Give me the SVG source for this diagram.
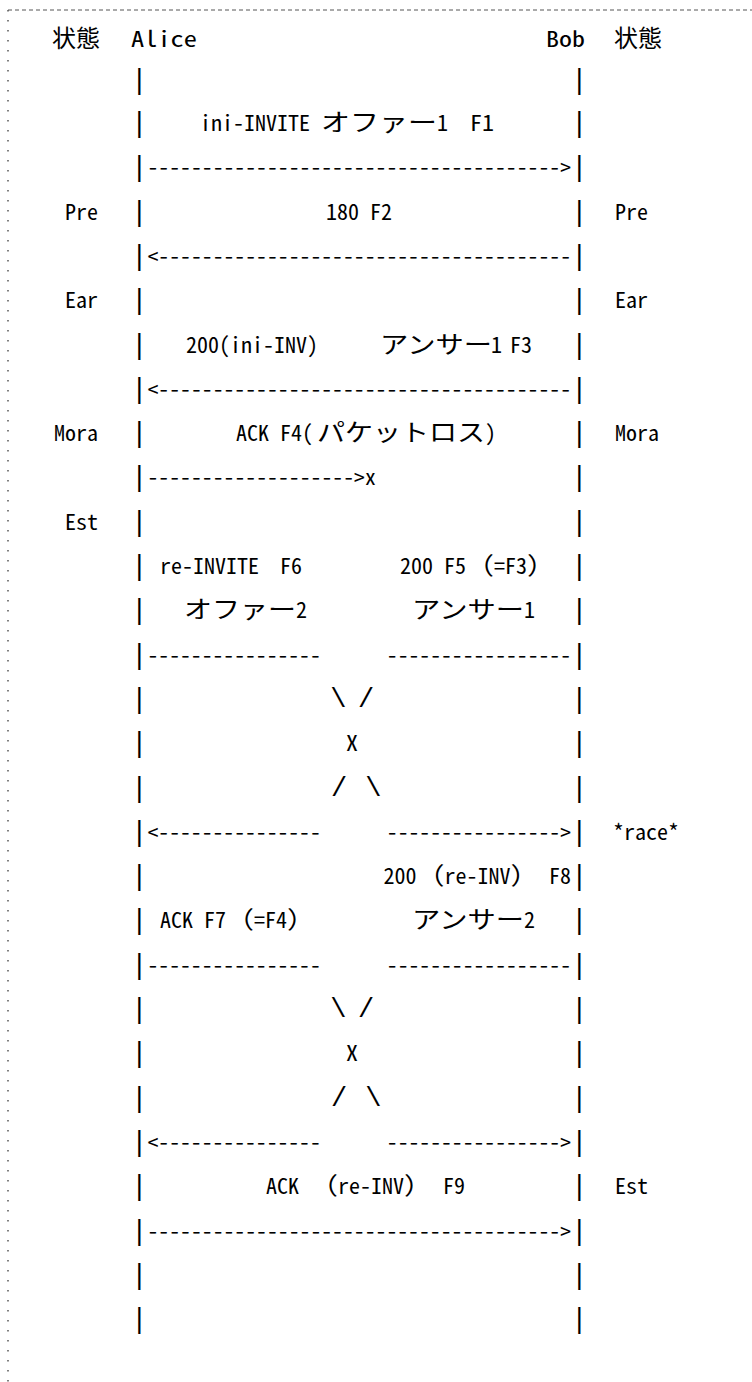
<svg xmlns="http://www.w3.org/2000/svg" width="752" height="1382" viewBox="0 0 752 1382">
<style>
text{font-family:"Noto Sans Mono CJK JP","DejaVu Sans Mono",monospace;font-size:22px;fill:#000}
.b{font-family:"DejaVu Sans Mono","Liberation Mono",monospace;font-size:26px}
.d{font-size:21.5px}
.s{font-family:"Liberation Mono","DejaVu Sans Mono",monospace;font-size:27px;text-anchor:middle}
.j{font-family:"Noto Sans CJK JP","Noto Sans CJK SC",sans-serif;font-size:24px}
.e{text-anchor:end}
</style>
<g id="frame" fill="none" stroke="#555">
<line x1="8" y1="10" x2="752" y2="10" stroke-dasharray="4 3"/>
<line x1="8" y1="10" x2="8" y2="1382" stroke-dasharray="1.5 8.5" stroke-width="1.5"/>
</g>
<g id="header">
<text class="j" x="52" y="47" textLength="48" lengthAdjust="spacingAndGlyphs">状態</text>
<text x="131" y="47" textLength="66" lengthAdjust="spacingAndGlyphs">Alice</text>
<text x="546" y="47" textLength="39" lengthAdjust="spacingAndGlyphs">Bob</text>
<text class="j" x="614" y="47" textLength="48" lengthAdjust="spacingAndGlyphs">状態</text>
</g>
<g id="states">
<text class="e" x="98" y="219.6">Pre</text>
<text x="615" y="219.6" textLength="33" lengthAdjust="spacingAndGlyphs">Pre</text>
<text class="e" x="98" y="308.2">Ear</text>
<text x="615" y="308.2" textLength="33" lengthAdjust="spacingAndGlyphs">Ear</text>
<text class="e" x="98" y="441.1">Mora</text>
<text x="615" y="441.1" textLength="44" lengthAdjust="spacingAndGlyphs">Mora</text>
<text class="e" x="98" y="529.7">Est</text>
<text x="613" y="839.8" textLength="66" lengthAdjust="spacingAndGlyphs">*race*</text>
<text x="615" y="1194.2" textLength="33" lengthAdjust="spacingAndGlyphs">Est</text>
</g>
<g id="connectors">
<text y="88.2"><tspan class="b" x="131.5">|</tspan><tspan class="b" x="571.5">|</tspan></text>
<text y="131" id="msg-F1"><tspan class="b" x="131.5">|</tspan><tspan x="200" textLength="110" lengthAdjust="spacingAndGlyphs">ini-INVITE</tspan><tspan class="j" x="321" textLength="116" lengthAdjust="spacingAndGlyphs">オファー</tspan><tspan x="437" textLength="11" lengthAdjust="spacingAndGlyphs">1</tspan><tspan x="470" textLength="24" lengthAdjust="spacingAndGlyphs">F1</tspan><tspan class="b" x="571.5">|</tspan></text>
<text y="175.3"><tspan class="b" x="131.5">|</tspan><tspan class="d" x="147.5" textLength="423.5" lengthAdjust="spacingAndGlyphs">--------------------------------------&gt;</tspan><tspan class="b" x="571.5">|</tspan></text>
<text y="219.6" id="msg-F2"><tspan class="b" x="131.5">|</tspan><tspan x="326" textLength="66" lengthAdjust="spacingAndGlyphs">180 F2</tspan><tspan class="b" x="571.5">|</tspan></text>
<text y="263.9"><tspan class="b" x="131.5">|</tspan><tspan class="d" x="147.5" textLength="423.5" lengthAdjust="spacingAndGlyphs">&lt;--------------------------------------</tspan><tspan class="b" x="571.5">|</tspan></text>
<text y="308.2"><tspan class="b" x="131.5">|</tspan><tspan class="b" x="571.5">|</tspan></text>
<text y="352.5" id="msg-F3"><tspan class="b" x="131.5">|</tspan><tspan x="186" textLength="132" lengthAdjust="spacingAndGlyphs">200(ini-INV)</tspan><tspan class="j" x="380" textLength="112" lengthAdjust="spacingAndGlyphs">アンサー</tspan><tspan x="491" textLength="11" lengthAdjust="spacingAndGlyphs">1</tspan><tspan x="510" textLength="22" lengthAdjust="spacingAndGlyphs">F3</tspan><tspan class="b" x="571.5">|</tspan></text>
<text y="396.8"><tspan class="b" x="131.5">|</tspan><tspan class="d" x="147.5" textLength="423.5" lengthAdjust="spacingAndGlyphs">&lt;--------------------------------------</tspan><tspan class="b" x="571.5">|</tspan></text>
<text y="441.1" id="msg-F4"><tspan class="b" x="131.5">|</tspan><tspan x="236" textLength="77" lengthAdjust="spacingAndGlyphs">ACK F4(</tspan><tspan class="j" x="317" textLength="168" lengthAdjust="spacingAndGlyphs">パケットロス</tspan><tspan x="485" textLength="11" lengthAdjust="spacingAndGlyphs">)</tspan><tspan class="b" x="571.5">|</tspan></text>
<text y="485.4"><tspan class="b" x="131.5">|</tspan><tspan class="d" x="147.5" textLength="228.3" lengthAdjust="spacingAndGlyphs">-------------------&gt;x</tspan><tspan class="b" x="571.5">|</tspan></text>
<text y="529.7"><tspan class="b" x="131.5">|</tspan><tspan class="b" x="571.5">|</tspan></text>
<text y="574" id="msg-F6-F5"><tspan class="b" x="131.5">|</tspan><tspan x="160" textLength="99" lengthAdjust="spacingAndGlyphs">re-INVITE</tspan><tspan x="280" textLength="22" lengthAdjust="spacingAndGlyphs">F6</tspan><tspan x="400" textLength="66" lengthAdjust="spacingAndGlyphs">200 F5</tspan><tspan class="j" x="466" textLength="28" lengthAdjust="spacingAndGlyphs">（</tspan><tspan x="494" textLength="33" lengthAdjust="spacingAndGlyphs">=F3</tspan><tspan class="j" x="527" textLength="28" lengthAdjust="spacingAndGlyphs">）</tspan><tspan class="b" x="571.5">|</tspan></text>
<text y="618.3"><tspan class="b" x="131.5">|</tspan><tspan class="j" x="184" textLength="112" lengthAdjust="spacingAndGlyphs">オファー</tspan><tspan x="296" textLength="11" lengthAdjust="spacingAndGlyphs">2</tspan><tspan class="j" x="412" textLength="112" lengthAdjust="spacingAndGlyphs">アンサー</tspan><tspan x="524" textLength="11" lengthAdjust="spacingAndGlyphs">1</tspan><tspan class="b" x="571.5">|</tspan></text>
<text y="662.6"><tspan class="b" x="131.5">|</tspan><tspan class="d" x="147.5" textLength="173.3" lengthAdjust="spacingAndGlyphs">----------------</tspan><tspan class="d" x="386.8" textLength="184.2" lengthAdjust="spacingAndGlyphs">-----------------</tspan><tspan class="b" x="571.5">|</tspan></text>
<text y="706.9"><tspan class="b" x="131.5">|</tspan><tspan class="s" x="338.3">\</tspan><tspan class="s" x="366">/</tspan><tspan class="b" x="571.5">|</tspan></text>
<text y="751.2"><tspan class="b" x="131.5">|</tspan><tspan x="346" textLength="12" lengthAdjust="spacingAndGlyphs">X</tspan><tspan class="b" x="571.5">|</tspan></text>
<text y="795.5"><tspan class="b" x="131.5">|</tspan><tspan class="s" x="339">/</tspan><tspan class="s" x="373.3">\</tspan><tspan class="b" x="571.5">|</tspan></text>
<text y="839.8"><tspan class="b" x="131.5">|</tspan><tspan class="d" x="147.5" textLength="173.3" lengthAdjust="spacingAndGlyphs">&lt;---------------</tspan><tspan class="d" x="386.8" textLength="184.2" lengthAdjust="spacingAndGlyphs">----------------&gt;</tspan><tspan class="b" x="571.5">|</tspan></text>
<text y="884.1" id="msg-F8"><tspan class="b" x="131.5">|</tspan><tspan x="383.5" textLength="33" lengthAdjust="spacingAndGlyphs">200</tspan><tspan class="j" x="416.5" textLength="28" lengthAdjust="spacingAndGlyphs">（</tspan><tspan x="444.5" textLength="66" lengthAdjust="spacingAndGlyphs">re-INV</tspan><tspan class="j" x="510.5" textLength="28" lengthAdjust="spacingAndGlyphs">）</tspan><tspan x="549" textLength="22" lengthAdjust="spacingAndGlyphs">F8</tspan><tspan class="b" x="571.5">|</tspan></text>
<text y="928.4" id="msg-F7"><tspan class="b" x="131.5">|</tspan><tspan x="160" textLength="66" lengthAdjust="spacingAndGlyphs">ACK F7</tspan><tspan class="j" x="226" textLength="28" lengthAdjust="spacingAndGlyphs">（</tspan><tspan x="254" textLength="33" lengthAdjust="spacingAndGlyphs">=F4</tspan><tspan class="j" x="287" textLength="28" lengthAdjust="spacingAndGlyphs">）</tspan><tspan class="j" x="412" textLength="112" lengthAdjust="spacingAndGlyphs">アンサー</tspan><tspan x="524" textLength="11" lengthAdjust="spacingAndGlyphs">2</tspan><tspan class="b" x="571.5">|</tspan></text>
<text y="972.7"><tspan class="b" x="131.5">|</tspan><tspan class="d" x="147.5" textLength="173.3" lengthAdjust="spacingAndGlyphs">----------------</tspan><tspan class="d" x="386.8" textLength="184.2" lengthAdjust="spacingAndGlyphs">-----------------</tspan><tspan class="b" x="571.5">|</tspan></text>
<text y="1017"><tspan class="b" x="131.5">|</tspan><tspan class="s" x="338.3">\</tspan><tspan class="s" x="366">/</tspan><tspan class="b" x="571.5">|</tspan></text>
<text y="1061.3"><tspan class="b" x="131.5">|</tspan><tspan x="346" textLength="12" lengthAdjust="spacingAndGlyphs">X</tspan><tspan class="b" x="571.5">|</tspan></text>
<text y="1105.6"><tspan class="b" x="131.5">|</tspan><tspan class="s" x="339">/</tspan><tspan class="s" x="373.3">\</tspan><tspan class="b" x="571.5">|</tspan></text>
<text y="1149.9"><tspan class="b" x="131.5">|</tspan><tspan class="d" x="147.5" textLength="173.3" lengthAdjust="spacingAndGlyphs">&lt;---------------</tspan><tspan class="d" x="386.8" textLength="184.2" lengthAdjust="spacingAndGlyphs">----------------&gt;</tspan><tspan class="b" x="571.5">|</tspan></text>
<text y="1194.2" id="msg-F9"><tspan class="b" x="131.5">|</tspan><tspan x="266" textLength="33" lengthAdjust="spacingAndGlyphs">ACK</tspan><tspan class="j" x="310" textLength="28" lengthAdjust="spacingAndGlyphs">（</tspan><tspan x="338" textLength="66" lengthAdjust="spacingAndGlyphs">re-INV</tspan><tspan class="j" x="404" textLength="28" lengthAdjust="spacingAndGlyphs">）</tspan><tspan x="443" textLength="22" lengthAdjust="spacingAndGlyphs">F9</tspan><tspan class="b" x="571.5">|</tspan></text>
<text y="1238.5"><tspan class="b" x="131.5">|</tspan><tspan class="d" x="147.5" textLength="423.5" lengthAdjust="spacingAndGlyphs">--------------------------------------&gt;</tspan><tspan class="b" x="571.5">|</tspan></text>
<text y="1282.8"><tspan class="b" x="131.5">|</tspan><tspan class="b" x="571.5">|</tspan></text>
<text y="1327.1"><tspan class="b" x="131.5">|</tspan><tspan class="b" x="571.5">|</tspan></text>
</g>
</svg>
